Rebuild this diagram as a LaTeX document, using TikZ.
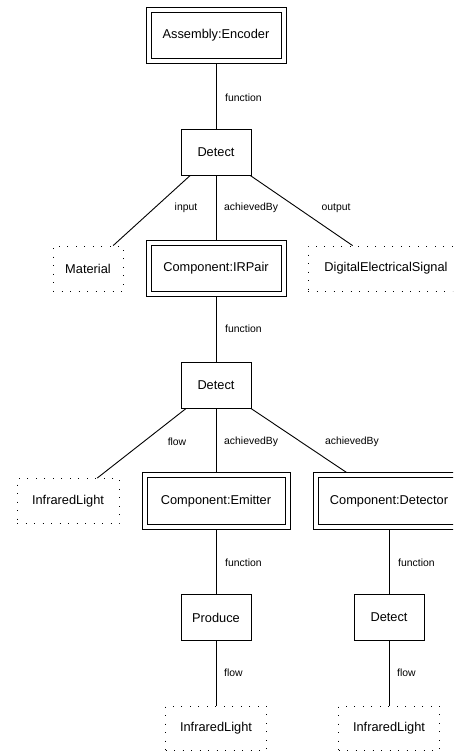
\documentclass[tikz,border=0pt]{standalone}
\usepackage{fontspec}
\setmainfont{Liberation Sans}
\begin{document}
\begin{tikzpicture}[x=1pt,y=-1pt,
  every node/.style={inner sep=0pt, align=center},
  ntext/.style={font=\fontsize{12.8}{15}\selectfont},
  fnbox/.style={ntext, draw, line width=0.8pt, fill=white, minimum width=70pt, minimum height=46pt},
  partbox/.style={ntext, draw, line width=0.8pt, fill=white, minimum height=56.5pt,
    path picture={\draw[line width=0.8pt]
      ([shift={(5pt,-5pt)}]path picture bounding box.north west) rectangle
      ([shift={(-5pt,5pt)}]path picture bounding box.south east);}},
  flowbox/.style={ntext, draw, line width=0.8pt, dash pattern=on 0.9pt off 7.6pt, minimum height=45pt},
  lbl/.style={font=\fontsize{10.4}{12}\selectfont},
  link/.style={line width=0.9pt}
]
\useasboundingbox (0,0) rectangle (453,754);
\clip (0,0) rectangle (453,754);

% assembly level
\node[partbox, minimum width=140pt] (asm) at (216,35.5) {Assembly:Encoder};
\node[fnbox] (det1) at (216,152) {Detect};
\node[flowbox, minimum width=70pt] (mat) at (88,268.5) {Material};
\node[partbox, minimum width=140pt] (irp) at (216,268.5) {Component:IRPair};
\node[flowbox, minimum width=156pt] (sig) at (386,268.5) {DigitalElectricalSignal};

% IR pair level
\node[fnbox] (det2) at (216,385) {Detect};
\node[flowbox, minimum width=102pt] (ir1) at (68,501) {InfraredLight};
\node[partbox, minimum width=148pt] (emi) at (216,501) {Component:Emitter};
\node[partbox, minimum width=152pt] (dtr) at (389,501) {Component:Detector};

% component level
\node[fnbox] (pro) at (216,617.5) {Produce};
\node[fnbox] (det3) at (389,617.5) {Detect};
\node[flowbox, minimum width=101pt, minimum height=44pt] (ir2) at (216,728) {InfraredLight};
\node[flowbox, minimum width=101pt, minimum height=44pt] (ir3) at (389,728) {InfraredLight};

% connectors
\draw[link] (asm) -- (det1);
\draw[link] (det1) -- (mat);
\draw[link] (det1) -- (irp);
\draw[link] (det1) -- (sig);
\draw[link] (irp) -- (det2);
\draw[link] (det2) -- (ir1);
\draw[link] (det2) -- (emi);
\draw[link] (det2) -- (dtr);
\draw[link] (emi) -- (pro);
\draw[link] (dtr) -- (det3);
\draw[link] (pro) -- (ir2);
\draw[link] (det3) -- (ir3);

% connector labels
\node[lbl, anchor=west] (lf1) at (225,98) {function};
\node[lbl] (lin) at (186,208) {input};
\node[lbl, anchor=west] (lach1) at (224,208) {achievedBy};
\node[lbl] (lout) at (336,208) {output};
\node[lbl, anchor=west] (lf2) at (225,329) {function};
\node[lbl] (lfl1) at (177,442) {flow};
\node[lbl, anchor=west] (lach2) at (224,442) {achievedBy};
\node[lbl] (lach3) at (352,442) {achievedBy};
\node[lbl, anchor=west] (lf3) at (225,563) {function};
\node[lbl, anchor=west] (lf4) at (398,563) {function};
\node[lbl, anchor=west] (lfl2) at (224,673) {flow};
\node[lbl, anchor=west] (lfl3) at (397,673) {flow};
\end{tikzpicture}
\end{document}
